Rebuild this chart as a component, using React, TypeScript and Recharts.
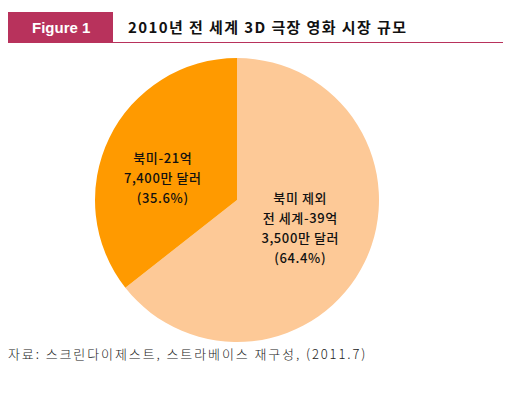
import { PieChart, Pie, Cell } from "recharts";

const regions = ["북미 제외 전 세계", "북미"];
const shares = [64.4, 35.6];
const labelLines = [
  ["북미 제외", "전 세계-39억", "3,500만 달러", "(64.4%)"],
  ["북미-21억", "7,400만 달러", "(35.6%)"],
];
const sliceColors = ["#FDC997", "#FF9A00"];

const data = regions.map((name, i) => ({ name, value: shares[i] }));

const RADIAN = Math.PI / 180;
// small nudges so the labels sit where the original puts them
const nudge = [
  { dx: -7, dy: -7 },
  { dx: -4, dy: 11 },
];

function SliceLabel(props: any) {
  const { cx, cy, midAngle, outerRadius, index } = props;
  const r = outerRadius * 0.55;
  const x = cx + r * Math.cos(-midAngle * RADIAN) + nudge[index].dx;
  const y = cy + r * Math.sin(-midAngle * RADIAN) + nudge[index].dy;
  const lines = labelLines[index];
  const lineH = 20;
  const top = y - ((lines.length - 1) * lineH) / 2;
  return (
    <text
      x={x}
      y={top}
      textAnchor="middle"
      dominantBaseline="central"
      fontFamily="'Noto Sans CJK KR', 'Noto Sans', sans-serif"
      fontSize={13}
      fontWeight={500}
      letterSpacing={0.6}
      fill="#111"
    >
      {lines.map((line, i) => (
        <tspan key={i} x={x} y={top + i * lineH}>
          {line}
        </tspan>
      ))}
    </text>
  );
}

export default function App() {
  return (
    <div
      style={{
        position: "absolute",
        left: 0,
        top: 0,
        width: 514,
        height: 393,
        background: "#fff",
        fontFamily: "'Noto Sans CJK KR', sans-serif",
      }}
    >
      {/* header */}
      <div
        style={{
          position: "absolute",
          left: 8,
          top: 12,
          width: 105,
          height: 31,
          background: "#B8325C",
          color: "#fff",
          fontFamily: "'Liberation Sans', Arial, sans-serif",
          fontWeight: 700,
          fontSize: 15,
          lineHeight: "31px",
          paddingLeft: 24,
          boxSizing: "border-box",
        }}
      >
        Figure 1
      </div>
      <div
        style={{
          position: "absolute",
          left: 113,
          top: 42,
          width: 390,
          height: 1,
          background: "#B8325C",
        }}
      />
      <div
        style={{
          position: "absolute",
          left: 128,
          top: 17,
          fontSize: 15,
          fontWeight: 700,
          lineHeight: "20px",
          letterSpacing: 1.4,
          color: "#111",
          whiteSpace: "nowrap",
        }}
      >
        2010년 전 세계 3D 극장 영화 시장 규모
      </div>

      <div style={{ position: "absolute", left: 0, top: 0 }}>
        <PieChart
          width={514}
          height={393}
          margin={{ top: 0, right: 0, bottom: 0, left: 0 }}
        >
          <Pie
            data={data}
            dataKey="value"
            nameKey="name"
            cx={237}
            cy={200}
            outerRadius={142}
            startAngle={90}
            endAngle={-270}
            stroke="none"
            labelLine={false}
            label={SliceLabel}
            isAnimationActive={false}
          >
            {data.map((d, i) => (
              <Cell key={d.name} fill={sliceColors[i]} />
            ))}
          </Pie>
        </PieChart>
      </div>

      {/* source */}
      <div
        style={{
          position: "absolute",
          left: 8,
          top: 345,
          fontSize: 13,
          fontWeight: 300,
          lineHeight: "18px",
          color: "#222",
          whiteSpace: "nowrap",
          letterSpacing: 1.9,
        }}
      >
        자료: 스크린다이제스트, 스트라베이스 재구성, (2011.7)
      </div>
    </div>
  );
}
